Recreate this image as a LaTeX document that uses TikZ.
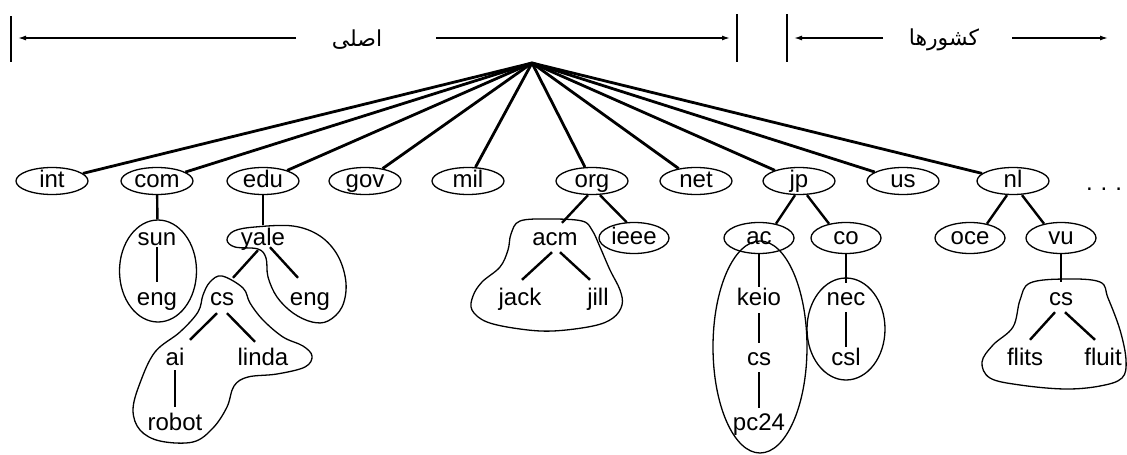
\documentclass[tikz,border=0pt]{standalone}
\usepackage{fontspec}
\setmainfont{Liberation Sans}
\newfontfamily\arabicfont[Script=Arabic]{DejaVu Sans}
\TeXXeTstate=1
\usetikzlibrary{shapes.geometric,arrows.meta}

\begin{document}
\begin{tikzpicture}[x=1pt,y=-1pt,
  lbl/.style={font=\fontsize{24}{24}\selectfont},
  tld/.style={ellipse, draw, line width=1.3pt, minimum width=72pt, minimum height=27pt,
              inner sep=0pt, text height=12pt, text depth=0pt, lbl},
  sub/.style={tld, minimum width=70pt, minimum height=31pt},
  word/.style={inner sep=0pt, text height=12pt, text depth=0pt, anchor=base, lbl},
  zone/.style={draw, line width=1.3pt},
  grp/.style={draw, line width=1.3pt, smooth cycle, tension=0.6},
  trunk/.style={line width=2.8pt},
  link/.style={line width=2.4pt},
  arr/.style={line width=1.4pt, -{Latex[length=8pt,width=5pt]}},
  bar/.style={line width=1.4pt},
  persian/.style={font=\arabicfont\fontsize{22}{22}\selectfont, inner sep=0pt}
]
\useasboundingbox (0,0) rectangle (1127,455);

% ---- zone markers above the tree ----
\draw[bar] (11,16) -- (11,62);
\draw[bar] (737,14) -- (737,62);
\draw[bar] (787,14) -- (787,62);
\coordinate (tipL) at (18,38);
\coordinate (tipM) at (730,38);
\coordinate (tipC) at (794,38);
\coordinate (tipR) at (1108,38);
\coordinate (genA) at (296,38);
\coordinate (genB) at (436,38);
\coordinate (cntA) at (883,38);
\coordinate (cntB) at (1012,38);
\node[persian] (generic) at (357,40) {\beginR اصلی\endR};
\node[persian] (countries) at (944,40) {\beginR کشورها\endR};
\draw[arr] (genA) -- (tipL);
\draw[arr] (genB) -- (tipM);
\draw[arr] (cntA) -- (tipC);
\draw[arr] (cntB) -- (tipR);

% ---- root and top-level domains ----
\coordinate (root) at (532,63);
\node[tld] (int) at (52,181) {int};
\node[tld] (com) at (157,181) {com};
\node[tld] (edu) at (263,181) {edu};
\node[tld] (gov) at (365,181) {gov};
\node[tld] (mil) at (468,181) {mil};
\node[tld] (org) at (592,181) {org};
\node[tld] (net) at (696,181) {net};
\node[tld] (jp) at (799,181) {jp};
\node[tld] (us) at (903,181) {us};
\node[tld] (nl) at (1013,181) {nl};
\node[lbl, inner sep=0pt, anchor=base] (more) at (1104,190) {.\,\,.\,\,.};
\foreach \d in {int,com,edu,gov,mil,org,net,jp,us,nl}
  \draw[trunk] (root) -- (\d);

% ---- com ----
\node[ellipse, zone, minimum width=77pt, minimum height=102pt, inner sep=0pt] (sungrp) at (158,271) {};
\node[word] (sun) at (157,245) {sun};
\node[word] (eng1) at (157,305) {eng};
\draw[link] (com) -- (sungrp);
\draw[link] ([yshift=-2pt]sun.south) -- ([yshift=11pt]eng1.north);

% ---- edu ----
\node[word] (yale) at (263,245) {yale};
\node[word] (cs1) at (222,305) {cs};
\node[word] (eng2) at (310,305) {eng};
\node[word] (ai) at (175,365) {ai};
\node[word] (linda) at (263,365) {linda};
\node[word] (robot) at (175,430) {robot};
\draw[grp] plot coordinates {(227,240) (234,231) (255,227) (293,226) (320,236) (338,256)
  (346,283) (342,307) (328,321) (312,322) (293,313) (277,297) (268,277) (266,258)
  (258,249) (235,247)};
\draw[grp] plot coordinates {(222,276) (210,282) (203,295) (198,312) (180,332) (155,352)
  (140,383) (133,410) (140,430) (160,441) (193,442) (213,428) (227,407) (234,386)
  (248,377) (277,374) (305,367) (312,356) (303,346) (283,337) (263,320) (250,303)
  (243,288)};
\draw[link] (edu.south) -- ([yshift=8pt]yale.north);
\draw[link] ([xshift=-5pt,yshift=-5pt]yale.south) -- ([xshift=11pt,yshift=15pt]cs1.north);
\draw[link] ([xshift=7pt,yshift=-2pt]yale.south) -- ([xshift=-12pt,yshift=15pt]eng2.north);
\draw[link] ([xshift=-5pt,yshift=-8pt]cs1.south) -- ([xshift=15pt,yshift=13pt]ai.north);
\draw[link] ([xshift=5pt,yshift=-8pt]cs1.south) -- ([xshift=-8pt,yshift=11pt]linda.north);
\draw[link] ([yshift=-5pt]ai.south) -- ([yshift=11pt]robot.north);

% ---- org ----
\node[word] (acm) at (555,245) {acm};
\node[sub] (ieee) at (634,238) {ieee};
\node[word] (jack) at (520,305) {jack};
\node[word] (jill) at (598,305) {jill};
\draw[grp] plot coordinates {(520,221) (550,219) (582,221) (592,230) (600,247) (610,270)
  (620,290) (622,305) (613,318) (593,326) (553,331) (520,329) (487,322) (472,310)
  (473,296) (482,282) (500,267) (508,250) (511,234)};
\draw[link] ([xshift=-4pt]org.south) -- ([xshift=7pt,yshift=10pt]acm.north);
\draw[link] ([xshift=8pt]org.south) -- (ieee.115);
\draw[link] ([xshift=-3pt,yshift=-7pt]acm.south) -- ([xshift=2pt,yshift=13pt]jack.north);
\draw[link] ([xshift=5pt,yshift=-7pt]acm.south) -- ([xshift=-8pt,yshift=13pt]jill.north);

% ---- jp ----
\node[sub] (ac) at (759,238) {ac};
\node[sub] (co) at (846,238) {co};
\node[ellipse, zone, minimum width=94pt, minimum height=212pt, inner sep=0pt] (keiogrp) at (760,347) {};
\node[ellipse, zone, minimum width=78pt, minimum height=102pt, inner sep=0pt] (necgrp) at (846,329) {};
\node[word] (keio) at (759,305) {keio};
\node[word] (cs2) at (759,365) {cs};
\node[word] (pc24) at (759,430) {pc24};
\node[word] (nec) at (846,305) {nec};
\node[word] (csl) at (846,365) {csl};
\draw[link] ([xshift=-4pt]jp.south) -- (ac.40);
\draw[link] ([xshift=8pt]jp.south) -- (co.140);
\draw[link] (ac.south) -- ([yshift=6pt]keio.north);
\draw[link] ([yshift=-8pt]keio.south) -- ([yshift=10pt]cs2.north);
\draw[link] ([yshift=-7pt]cs2.south) -- ([yshift=10pt]pc24.north);
\draw[link] (co.south) -- ([yshift=10pt]nec.north);
\draw[link] ([yshift=-7pt]nec.south) -- ([yshift=6pt]csl.north);

% ---- nl ----
\node[sub] (oce) at (970,238) {oce};
\node[sub] (vu) at (1061,238) {vu};
\node[word] (cs3) at (1061,305) {cs};
\node[word] (flits) at (1025,365) {flits};
\node[word] (fluit) at (1103,365) {fluit};
\draw[grp] plot coordinates {(1030,283) (1065,279) (1100,282) (1108,298) (1120,330)
  (1126,360) (1122,378) (1100,386) (1065,389) (1020,385) (990,378) (982,362) (993,345)
  (1013,327) (1020,300)};
\draw[link] ([xshift=-6pt]nl.south) -- (oce.40);
\draw[link] ([xshift=9pt]nl.south) -- (vu.140);
\draw[link] (vu.south) -- ([yshift=11pt]cs3.north);
\draw[link] ([xshift=-6pt,yshift=-7pt]cs3.south) -- ([xshift=5pt,yshift=13pt]flits.north);
\draw[link] ([xshift=4pt,yshift=-7pt]cs3.south) -- ([xshift=-8pt,yshift=13pt]fluit.north);
\end{tikzpicture}
\end{document}
